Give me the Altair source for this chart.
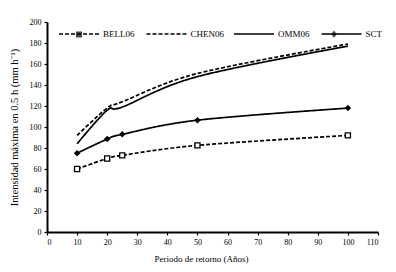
import altair as alt
import pandas as pd

# ---- data ----
periods = [10, 20, 25, 50, 100]
series_names = ["BELL06", "CHEN06", "OMM06", "SCT"]
bell06 = [60, 70, 73, 82.5, 92]
chen06 = [92, 118, 124, 151, 179]
omm06 = [84, 116, 119, 148, 177]
sct = [75, 88.5, 93, 106.5, 118]
x_ticks = list(range(0, 111, 10))
y_ticks = list(range(0, 201, 20))

rows = []
for name, vals in zip(series_names, [bell06, chen06, omm06, sct]):
    for p, v in zip(periods, vals):
        rows.append({"serie": name, "periodo": p, "intensidad": v})
df = pd.DataFrame(rows)

FONT = "Liberation Serif"
dash_range = [[4, 2], [4, 2], [1, 0], [1, 0]]
marker_shapes = [
    "M-0.15,-0.15H0.15V0.15H-0.15Z",
    "M0,0",
    "M0,0",
    "M0,-0.18L0.14,0L0,0.18L-0.14,0Z",
]

x_enc = alt.X(
    "periodo:Q",
    scale=alt.Scale(domain=[0, 110], nice=False),
    axis=alt.Axis(
        values=x_ticks,
        tickCount=12,
        title="Periodo de retorno (Años)",
        titleX=154,
        titleY=26,
        titleBaseline="middle",
        titleFontSize=9,
        labelFontSize=8,
        labelOverlap=False,
    ),
)
y_enc = alt.Y(
    "intensidad:Q",
    scale=alt.Scale(domain=[0, 200], nice=False),
    axis=alt.Axis(
        values=y_ticks,
        tickCount=11,
        title="Intensidad máxima en 0.5 h (mm h⁻¹)",
        titleX=-33,
        titleY=105,
        titleBaseline="middle",
        titleFontSize=10.5,
        labelFontSize=8,
        labelOverlap=False,
    ),
)

common_legend = dict(
    title=None,
    orient="none",
    legendX=11,
    legendY=-9,
    direction="horizontal",
    padding=0,
    gridAlign="all",
    symbolSize=1600,
    symbolStrokeWidth=1.5,
    symbolStrokeColor="black",
    symbolFillColor="black",
    labelFont=FONT,
    labelFontSize=9,
    labelColor="black",
    labelOffset=3,
)

base = alt.Chart(df).encode(x=x_enc, y=y_enc)

# lines + line-style legend (with labels)
lines = base.mark_line(color="black", strokeWidth=1.7, interpolate="cardinal").encode(
    strokeDash=alt.StrokeDash(
        "serie:N",
        scale=alt.Scale(domain=series_names, range=dash_range),
        legend=alt.Legend(symbolType="stroke", columnPadding=6.5, **common_legend),
    ),
    detail="serie:N",
)

bell_pts = base.transform_filter(alt.datum.serie == "BELL06").mark_point(
    shape="square", filled=True, fill="white", stroke="black",
    strokeWidth=1.3, size=26, opacity=1,
)

sct_pts = base.transform_filter(alt.datum.serie == "SCT").mark_point(
    shape="diamond", filled=True, color="black", size=42, opacity=1,
)

# marker-only legend laid over the line legend (no label text); zero-size points
marker_legend_layer = base.mark_point(
    filled=True, fill="black", stroke="black", strokeWidth=1, size=0
).encode(
    shape=alt.Shape(
        "serie:N",
        scale=alt.Scale(range=marker_shapes),
        legend=alt.Legend(labelExpr="''", columnPadding=40, **common_legend),
    ),
)

chart = (
    alt.layer(lines, bell_pts, sct_pts, marker_legend_layer)
    .properties(
        width=331,
        height=210,
        autosize=alt.AutoSizeParams(type="none"),
        padding={"left": 47, "top": 22, "right": 18, "bottom": 40},
        background="white",
    )
    .configure_view(stroke=None)
    .configure_axis(
        grid=False,
        domainColor="black",
        domainWidth=2,
        tickColor="black",
        tickSize=3,
        tickWidth=1.2,
        labelFont=FONT,
        titleFont=FONT,
        labelColor="black",
        titleColor="black",
        titleFontWeight="normal",
        labelPadding=3,
    )
)

chart.save("out.html", embed_options={"renderer": "svg", "actions": False})
